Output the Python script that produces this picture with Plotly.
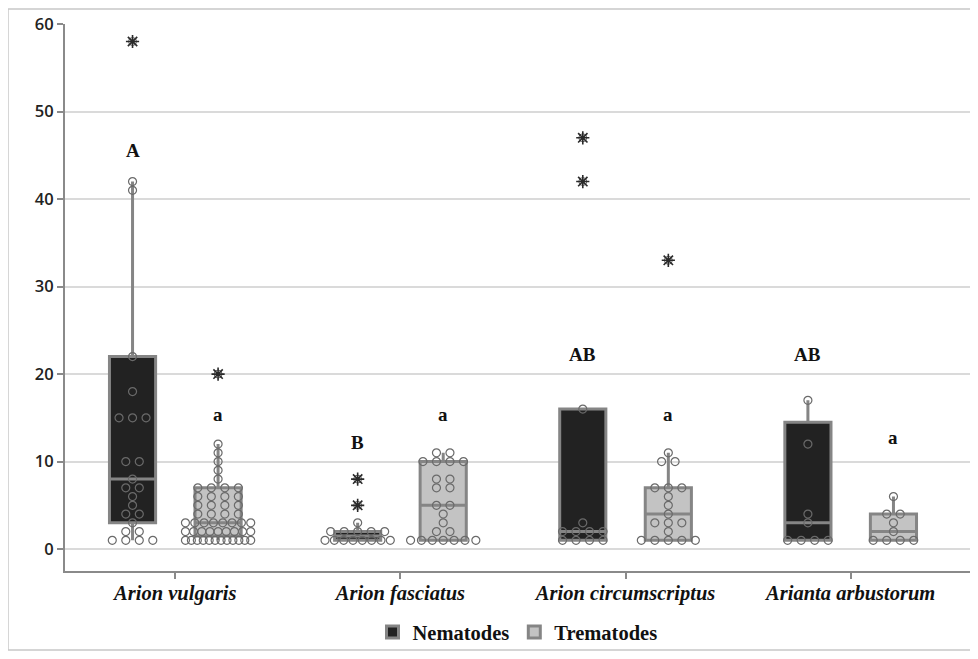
import plotly.graph_objects as go
import numpy as np

species = ["Arion vulgaris", "Arion fasciatus", "Arion circumscriptus", "Arianta arbustorum"]

# raw counts (Nematodes)
nem_vulgaris = [1, 1, 1, 1, 2, 2, 3, 4, 4, 5, 6, 7, 7, 8, 10, 10, 15, 15, 15, 18, 22, 41, 42, 58]
nem_fasciatus = [1, 1, 1, 1, 1, 1, 1, 1, 2, 2, 2, 2, 2, 3, 5, 8]
nem_circumscriptus = [1, 1, 1, 1, 2, 2, 2, 2, 3, 16, 42, 47]
nem_arbustorum = [1, 1, 1, 1, 3, 4, 12, 17]

# raw counts (Trematodes)
trem_vulgaris = ([1] * 12 + [2] * 9 + [3] * 8 + [4] * 4 + [5] * 4 + [6] * 4 + [7] * 4
                 + [8, 9, 10, 11, 12, 20])
trem_fasciatus = [1, 1, 1, 1, 1, 1, 1, 2, 2, 3, 4, 5, 5, 7, 7, 8, 8, 10, 10, 10, 10, 11, 11]
trem_circumscriptus = [1, 1, 1, 1, 1, 2, 3, 3, 3, 4, 5, 6, 7, 7, 7, 10, 10, 11, 33]
trem_arbustorum = [1, 1, 1, 1, 2, 3, 4, 4, 6]

# box statistics
nem_q1 = [3, 1, 1, 1]
nem_median = [8, 1.5, 2, 3]
nem_q3 = [22, 2, 16, 14.5]
nem_lower = [1, 1, 1, 1]
nem_upper = [42, 3, 16, 17]

trem_q1 = [1.5, 1, 1, 1]
trem_median = [3, 5, 4, 2]
trem_q3 = [7, 10, 7, 4]
trem_lower = [1, 1, 1, 1]
trem_upper = [12, 11, 11, 6]

nem_letters = ["A", "B", "AB", "AB"]
nem_letter_y = [45.6, 12.2, 22.2, 22.2]
trem_letters = ["a", "a", "a", "a"]
trem_letter_y = [15.4, 15.4, 15.4, 12.8]

nem_data = [nem_vulgaris, nem_fasciatus, nem_circumscriptus, nem_arbustorum]
trem_data = [trem_vulgaris, trem_fasciatus, trem_circumscriptus, trem_arbustorum]

OFF = 0.19
BOXW = 0.205
idx = np.arange(len(species))
nem_pos = idx - OFF
trem_pos = idx + OFF

NEM_FILL = "#222222"
TREM_FILL = "#c3c3c3"
EDGE = "#858585"
PT = "#6a6a6a"
SERIF = "Liberation Serif"


def swarm(values, centre, upper):
    """Dot-plot layout: equal values side by side, centred on the box."""
    xs, ys, ox, oy = [], [], [], []
    vals = np.array(values, dtype=float)
    for v in np.unique(vals):
        k = int((vals == v).sum())
        if v > upper:
            ox += [centre] * k
            oy += [v] * k
            continue
        sp = 0.06 if k <= 1 else min(0.06, 0.29 / (k - 1))
        offs = (np.arange(k) - (k - 1) / 2) * sp
        xs += list(centre + offs)
        ys += [v] * k
    return xs, ys, ox, oy


fig = go.Figure()

fig.add_trace(go.Box(
    x=nem_pos, q1=nem_q1, median=nem_median, q3=nem_q3,
    lowerfence=nem_lower, upperfence=nem_upper, width=BOXW,
    fillcolor=NEM_FILL, line=dict(color=EDGE, width=3), whiskerwidth=0,
    boxpoints=False, name="Nematodes", hoverinfo="skip"))
fig.add_trace(go.Box(
    x=trem_pos, q1=trem_q1, median=trem_median, q3=trem_q3,
    lowerfence=trem_lower, upperfence=trem_upper, width=BOXW,
    fillcolor=TREM_FILL, line=dict(color=EDGE, width=3), whiskerwidth=0,
    boxpoints=False, name="Trematodes", hoverinfo="skip"))

allx, ally, outx, outy = [], [], [], []
for data, pos, up in ((nem_data, nem_pos, nem_upper), (trem_data, trem_pos, trem_upper)):
    for d, c, u in zip(data, pos, up):
        a, b, c2, d2 = swarm(d, c, u)
        allx += a; ally += b; outx += c2; outy += d2

fig.add_trace(go.Scatter(
    x=allx, y=ally, mode="markers", showlegend=False, hoverinfo="skip",
    marker=dict(symbol="circle-open", size=8, color=PT, line=dict(width=1.2, color=PT))))
fig.add_trace(go.Scatter(
    x=outx, y=outy, mode="markers", showlegend=False, hoverinfo="skip",
    marker=dict(symbol="circle-open", size=8, color="#666666", line=dict(width=1, color="#666666"))))
fig.add_trace(go.Scatter(
    x=outx, y=outy, mode="markers", showlegend=False, hoverinfo="skip",
    marker=dict(symbol="asterisk-open", size=11, color="#2a2a2a", line=dict(width=1.6, color="#2a2a2a"))))

for i in range(len(species)):
    fig.add_annotation(x=nem_pos[i], y=nem_letter_y[i], text="<b>%s</b>" % nem_letters[i],
                       showarrow=False, font=dict(family=SERIF, size=19, color="#111111"))
    fig.add_annotation(x=trem_pos[i], y=trem_letter_y[i], text="<b>%s</b>" % trem_letters[i],
                       showarrow=False, font=dict(family=SERIF, size=19, color="#111111"))

# thin grey frame around the whole chart
fig.add_shape(type="rect", xref="paper", yref="paper", x0=-0.063, x1=1.0055, y0=-0.1444, y1=1.0274,
              line=dict(color="#c8c8c8", width=1.5), fillcolor="rgba(0,0,0,0)", layer="below")

# the page body adds an 8px offset, so the figure is 8px smaller and margins shifted
fig.update_layout(
    width=970, height=651,
    margin=dict(l=57, r=8, t=16, b=88, autoexpand=False),
    paper_bgcolor="white", plot_bgcolor="white",
    boxmode="overlay",
    showlegend=True,
    legend=dict(orientation="h", x=0.5, xanchor="center", y=-0.112, yanchor="middle",
                font=dict(family=SERIF, size=20.5, color="#111111", weight=700),
                bgcolor="rgba(0,0,0,0)", itemwidth=30, traceorder="normal"),
    xaxis=dict(range=[-0.49, 3.53], tickvals=list(idx), automargin=False,
               ticktext=["<b><i>%s</i></b>" % s for s in species],
               tickfont=dict(family=SERIF, size=20.5, color="#111111"),
               ticklabelstandoff=-4,
               showline=True, linecolor="#8a8a8a", linewidth=2,
               ticks="outside", ticklen=6, tickcolor="#8a8a8a", tickwidth=1.5,
               showgrid=False, zeroline=False),
    yaxis=dict(range=[-2.5, 60], tickvals=[0, 10, 20, 30, 40, 50, 60], automargin=False,
               tickfont=dict(family="Open Sans", size=16.5, color="#222222", weight=600),
               showline=True, linecolor="#8a8a8a", linewidth=2,
               ticks="outside", ticklen=6, tickcolor="#8a8a8a", tickwidth=1.5,
               showgrid=True, gridcolor="#dadada", gridwidth=2, zeroline=False),
)

fig.write_html("out.html")
